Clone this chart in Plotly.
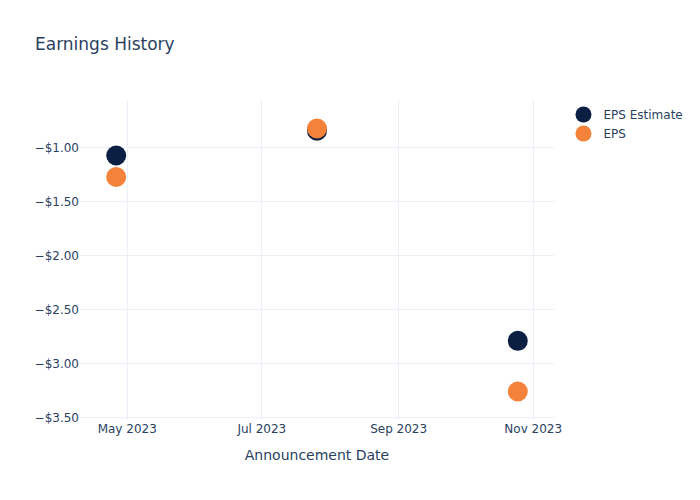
import plotly.graph_objects as go

dates = ["2023-04-26", "2023-07-26", "2023-10-25"]
eps_estimate = [-1.07, -0.84, -2.79]
eps_actual = [-1.27, -0.82, -3.26]

fig = go.Figure()
fig.add_trace(go.Scatter(x=dates, y=eps_estimate, mode="markers", name="EPS Estimate",
                         marker=dict(color="#0b1f42", size=20)))
fig.add_trace(go.Scatter(x=dates, y=eps_actual, mode="markers", name="EPS",
                         marker=dict(color="#f5823a", size=20)))
fig.update_layout(
    template="plotly_white",
    width=700, height=500,
    font=dict(family="DejaVu Sans"),
    title=dict(text="Earnings History"),
    xaxis=dict(title=dict(text="Announcement Date")),
    yaxis=dict(tickformat="$.2f"),
)
fig.write_html("out.html")
